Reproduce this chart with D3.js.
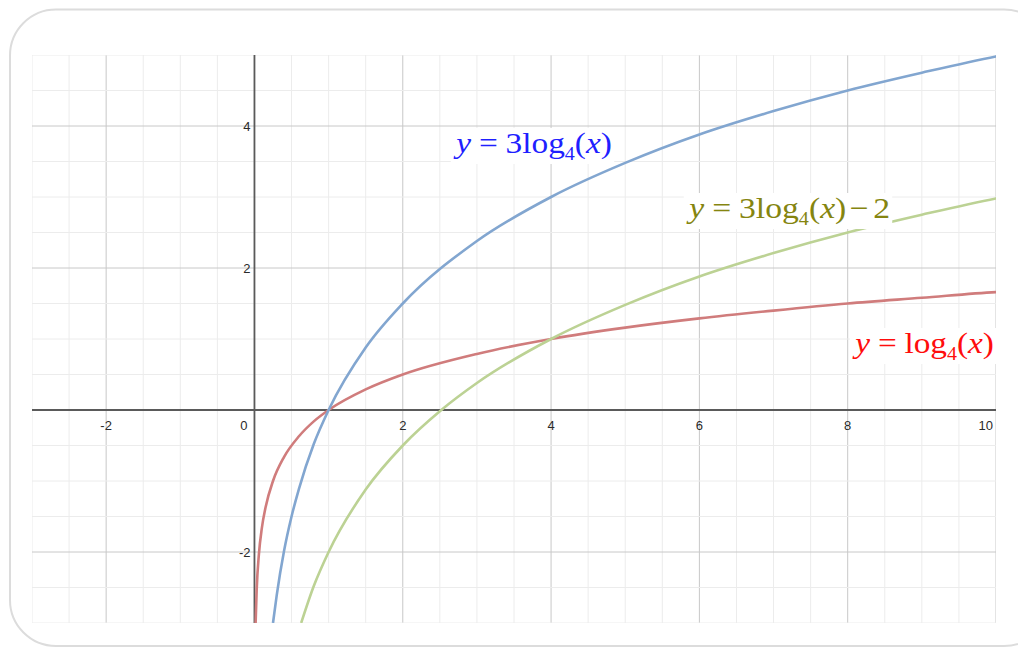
<!DOCTYPE html>
<html lang="en">
  <head>
    <meta charset="UTF-8" />
    <title>log4 graphs</title>
    <script src="https://d3js.org/d3.v7.min.js"></script>
    <style>
      body { margin: 0; background: #fff; }
      .tick-label { font-family: "Liberation Sans", Arial, sans-serif; font-size: 13px; fill: #2a2a2a; }
      .eq { font-family: "Liberation Serif", "Times New Roman", serif; font-size: 30px; }
    </style>
  </head>
  <body>

    <svg width="1018" height="648"></svg>

<script>

// values
var redX   = [0.0156, 0.03, 0.06, 0.1, 0.15, 0.25, 0.4, 0.6, 0.8, 1, 1.5, 2, 3, 4, 5, 6, 7, 8, 9, 10, 10.2];
var redY   = [-3, -2.53, -2.03, -1.66, -1.37, -1, -0.66, -0.37, -0.16, 0, 0.29, 0.5, 0.79, 1, 1.16, 1.29, 1.40, 1.5, 1.58, 1.66, 1.67];

var blueX  = [0.25, 0.3, 0.4, 0.5, 0.6, 0.8, 1, 1.5, 2, 3, 4, 5, 6, 7, 8, 9, 10, 10.2];
var blueY  = [-3, -2.61, -1.98, -1.5, -1.11, -0.48, 0, 0.88, 1.5, 2.38, 3, 3.48, 3.88, 4.21, 4.5, 4.75, 4.98, 5.02];

var greenX = [0.63, 0.8, 1, 1.5, 2, 2.52, 3, 4, 5, 6, 7, 8, 9, 10, 10.2];
var greenY = [-3, -2.48, -2, -1.12, -0.5, 0, 0.38, 1, 1.48, 1.88, 2.21, 2.5, 2.75, 2.98, 3.02];

var xTicks = [-2, 0, 2, 4, 6, 8, 10];
var yTicks = [-2, 2, 4];

var svg = d3.select("svg");

// outer rounded frame
svg.append("rect")
   .attr("x", 10).attr("y", 9.5)
   .attr("width", 1040).attr("height", 636.5)
   .attr("rx", 46).attr("ry", 46)
   .attr("fill", "none")
   .attr("stroke", "#dcdcdc")
   .attr("stroke-width", 2);

var pL = 32, pR = 996, pT = 55, pB = 623;

var x = d3.scaleLinear().domain([-3, 10]).range([pL, pR]);
var y = d3.scaleLinear().domain([-3, 5]).range([pB, pT]);

svg.append("clipPath").attr("id", "plot")
   .append("rect")
   .attr("x", pL).attr("y", pT)
   .attr("width", pR - pL).attr("height", pB - pT);

var g = svg.append("g").attr("clip-path", "url(#plot)");

// grid
var minorX = d3.range(-3, 10.01, 0.5), minorY = d3.range(-3, 5.01, 0.5);

g.selectAll(".vminor").data(minorX).enter().append("line")
 .attr("x1", d => x(d)).attr("x2", d => x(d))
 .attr("y1", pT).attr("y2", pB)
 .attr("stroke", d => d % 2 === 0 ? "#c8c8c8" : "#ececec")
 .attr("stroke-width", 1);

g.selectAll(".hminor").data(minorY).enter().append("line")
 .attr("y1", d => y(d)).attr("y2", d => y(d))
 .attr("x1", pL).attr("x2", pR)
 .attr("stroke", d => d % 2 === 0 ? "#c8c8c8" : "#ececec")
 .attr("stroke-width", 1);

// axes
g.append("line")
 .attr("x1", x(0)).attr("x2", x(0)).attr("y1", pT).attr("y2", pB)
 .attr("stroke", "#5a5a5a").attr("stroke-width", 1.8);
g.append("line")
 .attr("y1", y(0)).attr("y2", y(0)).attr("x1", pL).attr("x2", pR)
 .attr("stroke", "#5a5a5a").attr("stroke-width", 1.8);

// tick labels
svg.selectAll(".xt").data(xTicks).enter().append("text")
   .attr("class", "tick-label")
   .attr("x", d => d === 0 ? x(0) - 7 : (d === 10 ? x(d) - 3 : x(d)))
   .attr("y", y(0) + 20)
   .attr("text-anchor", d => d === 0 || d === 10 ? "end" : "middle")
   .text(d => d);

svg.selectAll(".yt").data(yTicks).enter().append("text")
   .attr("class", "tick-label")
   .attr("x", x(0) - 4)
   .attr("y", d => y(d) + 5)
   .attr("text-anchor", "end")
   .text(d => d);

// curves
var line = d3.line()
    .x(d => x(d[0]))
    .y(d => y(d[1]))
    .curve(d3.curveMonotoneX);

var curves = [
  { xs: redX, ys: redY, color: "#d07c7c" },
  { xs: greenX, ys: greenY, color: "#bcd294" },
  { xs: blueX, ys: blueY, color: "#82a6d0" }
];

curves.forEach(function(c) {
  g.append("path")
   .datum(d3.zip(c.xs, c.ys))
   .attr("d", line)
   .attr("fill", "none")
   .attr("stroke", c.color)
   .attr("stroke-width", 2.6);
});

// equation labels, stretched sideways to the reference width
function eq(px, py, w, color, coef, tail) {
  var lg = svg.append("g");
  var bg = lg.append("rect").attr("fill", "#fff");
  var t = lg.append("text").attr("class", "eq")
            .attr("x", 0).attr("y", 0).attr("fill", color);
  t.append("tspan").attr("font-style", "italic").text("y");
  t.append("tspan").attr("dx", 7).text("=");
  t.append("tspan").attr("dx", 7).text(coef + "log");
  t.append("tspan").attr("font-size", "18px").attr("dy", 7).text("4");
  t.append("tspan").attr("dy", -7).text("(");
  t.append("tspan").attr("font-style", "italic").text("x");
  t.append("tspan").text(")");
  if (tail) {
    t.append("tspan").attr("dx", 3).text("\u2212");
    t.append("tspan").attr("dx", 4).text(tail);
  }
  var b = t.node().getBBox();
  var sx = w / b.width;
  lg.attr("transform", "translate(" + (px - b.x * sx) + "," + py + ") scale(" + sx + ",1)");
  bg.attr("x", b.x - 2).attr("y", b.y + 2).attr("width", b.width + 4).attr("height", b.height - 2);
}

eq(453, 153, 159, "#1f1fff", "3", null);
eq(686, 218, 204, "#858510", "3", "2");
eq(852, 353, 142, "#ff0d0d", "", null);

</script>

  </body>
</html>
